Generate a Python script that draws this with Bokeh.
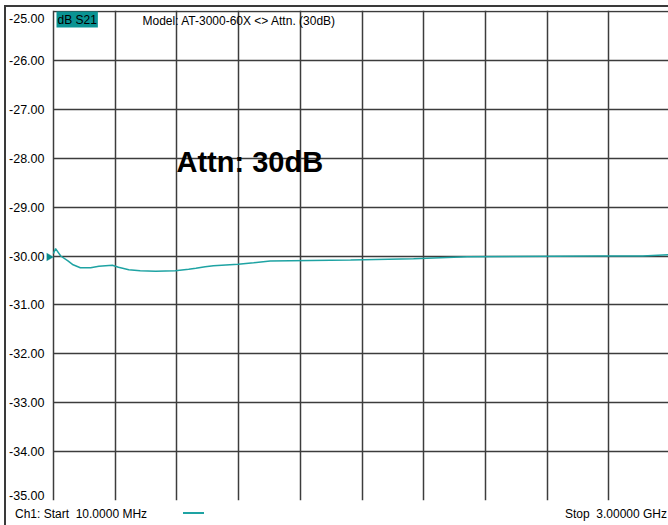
from bokeh.plotting import figure
from bokeh.layouts import column
from bokeh.models import (Range1d, FixedTicker, PrintfTickFormatter, Label,
                          PolyAnnotation, Div)
from bokeh.embed import file_html
from bokeh.resources import INLINE

# ---- data ----
freq_mhz = [10, 20, 45, 80, 105, 140, 190, 230, 295, 325, 375, 430, 505, 600,
            665, 700, 745, 785, 905, 980, 1060, 1450, 1755, 2015, 2660, 2865, 3000]
s21_db = [-29.95, -29.85, -30.00, -30.10, -30.18, -30.24, -30.24, -30.21, -30.19,
          -30.23, -30.28, -30.30, -30.31, -30.30, -30.27, -30.25, -30.22, -30.20,
          -30.17, -30.14, -30.10, -30.08, -30.055, -30.015, -30.00, -30.00, -29.97]
y_ticks = [-25, -26, -27, -28, -29, -30, -31, -32, -33, -34, -35]
# the analyser nudges the first and last scale labels inside the graticule
y_label_pos = [-25.14, -26, -27, -28, -29, -30, -31, -32, -33, -34, -34.9]
start_mhz, stop_mhz, n_div = 10, 3000, 10
x_grid = [start_mhz + k * (stop_mhz - start_mhz) / n_div for k in range(n_div + 1)]
ref_level = -30.02

title_text = "Model: AT-3000-60X <> Attn. (30dB)"
trace_tag = "dB S21"
note_text = "Attn: 30dB"
start_text = "Ch1: Start  10.0000 MHz"
stop_text = "Stop  3.00000 GHz"

TEAL = "#1ea3a3"
GRID = "#3c3c3c"
FRAME = "#3a3a3a"
FONT = "Liberation Sans"

mhz_per_px = (stop_mhz - start_mhz) / 617.0
db_per_px = 10.0 / 489.0
x_start = start_mhz - 7 * mhz_per_px
x_end = start_mhz + 615 * mhz_per_px
y_top = -25 + 1 * db_per_px

p = figure(width=662, height=496, output_backend="svg", toolbar_location=None,
           x_range=Range1d(x_start, x_end), y_range=Range1d(-35, y_top),
           min_border_left=40, min_border_right=0, min_border_top=3,
           min_border_bottom=3)
p.outline_line_color = None
p.background_fill_color = "white"
p.border_fill_color = "white"

p.xaxis.visible = False
p.xgrid.ticker = FixedTicker(ticks=x_grid)
p.ygrid.ticker = FixedTicker(ticks=y_ticks)
p.ygrid.cross_bounds = (start_mhz, x_end)
p.yaxis.ticker = FixedTicker(ticks=y_label_pos)
p.yaxis.formatter = PrintfTickFormatter(format="%.2f")
p.yaxis.major_label_overrides = {y_label_pos[i]: "%.2f" % y_ticks[i]
                                 for i in (0, len(y_ticks) - 1)}
p.yaxis.axis_line_color = None
p.yaxis.major_tick_line_color = None
p.yaxis.minor_tick_line_color = None
p.yaxis.major_tick_out = 0
p.yaxis.major_tick_in = 0
p.yaxis.major_label_standoff = 2
p.yaxis.major_label_text_font = FONT
p.yaxis.major_label_text_font_size = "12.5px"
p.yaxis.major_label_text_color = "black"

for g in (p.xgrid, p.ygrid):
    g.grid_line_color = GRID
    g.grid_line_width = 1.5

trace = p.line(freq_mhz, s21_db, line_color=TEAL, line_width=1.5)

# reference-level marker (triangle pointing right, left of the first division)
tri_w = 7 * mhz_per_px
tri_h = 4 * db_per_px
p.add_layout(PolyAnnotation(xs=[start_mhz - tri_w, start_mhz, start_mhz - tri_w],
                            ys=[ref_level + tri_h, ref_level, ref_level - tri_h],
                            fill_color="#0b8c8c", fill_alpha=1.0,
                            line_color="#0b8c8c", line_width=1))

p.add_layout(Label(x=start_mhz + 3 * mhz_per_px, y=-25 - 8 * db_per_px, text=trace_tag,
                   text_font=FONT, text_font_size="12px", text_color="black",
                   text_baseline="middle", background_fill_color="#0a9393",
                   padding=1))
p.add_layout(Label(x=start_mhz + 89 * mhz_per_px, y=-25 - 9 * db_per_px, text=title_text,
                   text_font=FONT, text_font_size="12px", text_color="black",
                   text_baseline="middle"))
p.add_layout(Label(x=start_mhz + 123 * mhz_per_px, y=-25 - 150.5 * db_per_px,
                   text=note_text, text_font=FONT, text_font_size="29px",
                   text_font_style="bold", text_color="black",
                   text_baseline="alphabetic"))

# ---- bottom status bar ----
status_html = (
    f'<div style="position:relative;width:662px;height:22px;'
    f'font-family:\'{FONT}\';font-size:12px;line-height:14px;color:black;">'
    f'<span style="position:absolute;left:9px;top:4px;white-space:pre;">{start_text}</span>'
    f'<span style="position:absolute;left:177px;top:9px;width:21px;height:2px;'
    f'background:{TEAL};"></span>'
    f'<span style="position:absolute;right:1px;top:4px;white-space:pre;">{stop_text}</span>'
    f'</div>'
)
status = Div(text=status_html, width=662, height=22, margin=(0, 0, 0, 0))

layout = column(p, status, spacing=0)
layout.styles = {"margin-left": "4px", "margin-top": "5px",
                 "border-left": f"2px solid {FRAME}",
                 "border-top": f"2px solid {FRAME}"}

open("out.html", "w").write(file_html(layout, INLINE))
